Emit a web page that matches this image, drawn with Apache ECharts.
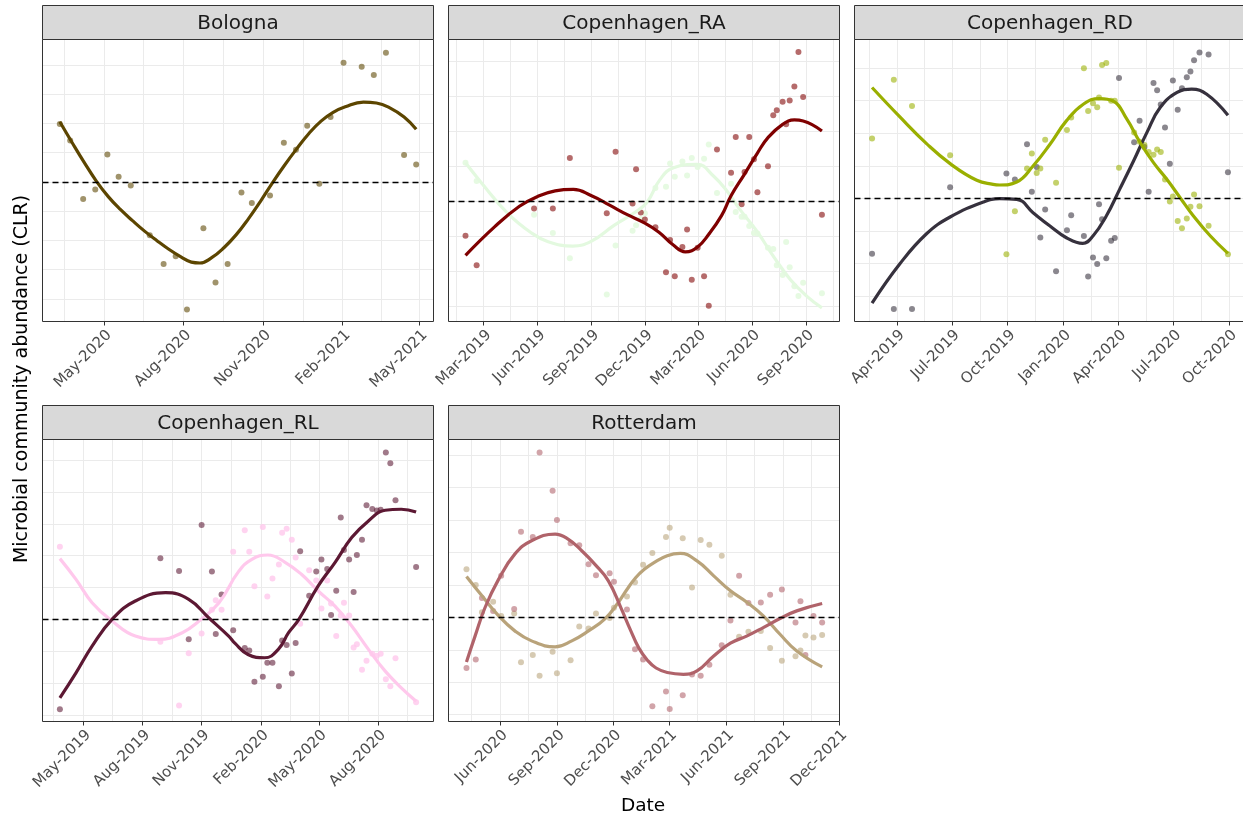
<!DOCTYPE html>
<html>
<head>
<meta charset="utf-8">
<script src="https://cdn.jsdelivr.net/npm/echarts@6/dist/echarts.min.js"></script>
<style>
  html, body { margin: 0; padding: 0; background: #ffffff; }
  #chart { width: 1243px; height: 820px; }
</style>
</head>
<body>
<div id="chart"></div>
<script>
const MONTH_ABBR = ['Jan', 'Feb', 'Mar', 'Apr', 'May', 'Jun', 'Jul', 'Aug', 'Sep', 'Oct', 'Nov', 'Dec'];

// ---------- Bologna ----------
const bolognaDates = ['2020-03-11','2020-03-23','2020-04-07','2020-04-21','2020-05-05','2020-05-18','2020-06-01','2020-06-23','2020-07-09','2020-07-23','2020-08-05','2020-08-24','2020-09-07','2020-09-21','2020-10-07','2020-10-19','2020-11-09','2020-11-25','2020-12-09','2020-12-22','2021-01-05','2021-01-18','2021-02-02','2021-02-23','2021-03-09','2021-03-23','2021-04-13','2021-04-27'];
const bolognaAbundance = [0.99, 0.71, -0.29, -0.13, 0.47, 0.09, -0.06, -0.91, -1.40, -1.27, -2.18, -0.79, -1.72, -1.40, -0.18, -0.36, -0.23, 0.67, 0.55, 0.96, -0.03, 1.11, 2.04, 1.97, 1.83, 2.21, 0.46, 0.30];
const bolognaFitDates = ['2020-03-11','2020-03-25','2020-04-08','2020-04-22','2020-05-06','2020-05-20','2020-06-03','2020-06-17','2020-07-01','2020-07-15','2020-07-29','2020-08-10','2020-08-20','2020-09-03','2020-09-17','2020-10-01','2020-10-15','2020-10-29','2020-11-12','2020-11-26','2020-12-10','2020-12-24','2021-01-07','2021-01-21','2021-02-04','2021-02-25','2021-03-12','2021-03-26','2021-04-13','2021-04-27'];
const bolognaFit = [1.03, 0.68, 0.34, 0.02, -0.25, -0.47, -0.66, -0.84, -1.00, -1.15, -1.28, -1.37, -1.385, -1.29, -1.12, -0.90, -0.63, -0.33, -0.01, 0.29, 0.57, 0.83, 1.04, 1.19, 1.285, 1.365, 1.35, 1.28, 1.11, 0.90];
const bolognaTicks = ['2020-05-01','2020-08-01','2020-11-01','2021-02-01','2021-05-01'];
const bolognaDateRange = ['2020-02-20', '2021-05-17'];
const bolognaAbundanceRange = [-2.385, 2.436];

// ---------- Copenhagen_RA ----------
const raDates = ['2019-01-29','2019-02-17','2019-05-26','2019-06-27','2019-07-26','2019-09-27','2019-10-12','2019-11-10','2019-11-16','2019-11-24','2019-12-01','2019-12-19','2020-01-06','2020-01-13','2020-01-21','2020-02-03','2020-02-11','2020-02-19','2020-02-29','2020-03-11','2020-03-19','2020-04-02','2020-04-26','2020-05-04','2020-05-14','2020-05-19','2020-05-27','2020-06-04','2020-06-10','2020-06-28','2020-07-07','2020-07-13','2020-07-23','2020-07-29','2020-08-04','2020-08-12','2020-08-19','2020-08-27','2020-09-28'];
const raRedAbundance = [-0.49, -0.91, -0.10, -0.10, 0.62, -0.17, 0.71, -0.03, 0.46, -0.16, -0.26, -0.37, -1.01, -0.55, -1.07, -0.65, -0.40, -1.12, -0.66, -1.07, -1.49, 0.74, 0.41, 0.92, -0.04, 0.42, 0.92, 0.60, 0.13, 0.50, 1.23, 1.30, 1.42, 1.10, 1.44, 1.64, 2.13, 1.49, -0.19];
const raGreenAbundance = [0.55, 0.29, -0.19, -0.45, -0.81, -1.33, -0.63, -0.42, -0.34, -0.25, -0.17, 0.19, 0.21, 0.54, 0.35, 0.57, 0.37, 0.62, 0.49, 0.61, 0.81, 0.12, 0.25, -0.15, -0.22, -0.22, -0.35, -0.45, -0.46, -0.66, -0.68, -0.91, -1.05, -0.58, -0.94, -1.21, -1.35, -1.16, -1.31];
const raRedFitDates = ['2019-01-29','2019-03-20','2019-05-01','2019-06-01','2019-07-01','2019-08-01','2019-09-01','2019-10-01','2019-11-01','2019-12-01','2019-12-25','2020-01-18','2020-02-08','2020-02-29','2020-03-19','2020-04-10','2020-04-26','2020-05-19','2020-06-10','2020-06-28','2020-07-23','2020-08-12','2020-08-27','2020-09-28'];
const raRedFit = [-0.77, -0.36, -0.07, 0.07, 0.15, 0.17, 0.08, -0.05, -0.19, -0.31, -0.44, -0.62, -0.72, -0.65, -0.47, -0.20, 0.08, 0.39, 0.69, 0.91, 1.10, 1.162, 1.148, 1.005];
const raGreenFitDates = ['2019-01-29','2019-02-25','2019-04-11','2019-05-21','2019-06-19','2019-07-31','2019-09-01','2019-10-10','2019-11-13','2019-12-04','2019-12-27','2020-01-19','2020-02-28','2020-03-27','2020-04-19','2020-05-11','2020-06-09','2020-07-07','2020-08-05','2020-09-02','2020-09-28'];
const raGreenFit = [0.55, 0.267, -0.171, -0.448, -0.576, -0.638, -0.567, -0.338, -0.162, -0.02, 0.314, 0.481, 0.529, 0.362, 0.148, -0.114, -0.424, -0.781, -1.114, -1.352, -1.52];
const raTicks = ['2019-03-01','2019-06-01','2019-09-01','2019-12-01','2020-03-01','2020-06-01','2020-09-01'];
const raDateRange = ['2018-12-31', '2020-10-28'];
const raAbundanceRange = [-1.714, 2.31];

// ---------- Copenhagen_RD ----------
const rdDates = ['2019-02-19','2019-03-27','2019-04-26','2019-06-28','2019-09-29','2019-10-13','2019-11-02','2019-11-10','2019-11-18','2019-11-24','2019-12-02','2019-12-20','2020-01-07','2020-01-14','2020-02-04','2020-02-11','2020-02-19','2020-02-26','2020-02-29','2020-03-05','2020-03-12','2020-03-20','2020-03-26','2020-04-02','2020-04-27','2020-05-06','2020-05-14','2020-05-21','2020-05-29','2020-06-04','2020-06-10','2020-06-17','2020-06-25','2020-06-30','2020-07-08','2020-07-15','2020-07-23','2020-07-29','2020-08-04','2020-08-13','2020-08-28','2020-09-29'];
const rdDarkAbundance = [-0.85, -1.70, -1.70, 0.17, 0.38, 0.29, 0.83, 0.10, 0.48, -0.60, -0.17, -1.12, -0.49, -0.26, -0.58, -1.20, -0.91, -1.01, -0.09, -0.32, -0.92, -0.65, -0.61, 1.85, 0.86, 1.19, 0.79, 0.10, 1.77, 1.66, 1.44, 1.09, 0.53, 1.81, 1.36, 1.69, 1.86, 1.95, 2.12, 2.24, 2.21, 0.40];
const rdGreenAbundance = [0.92, 1.82, 1.42, 0.66, -0.86, -0.20, 0.46, 0.69, 0.39, 0.46, 0.90, 0.24, 1.05, 1.24, 2.00, 1.34, 1.46, 1.40, 1.55, 2.05, 2.08, 1.50, 1.50, 0.47, 1.01, 0.87, 0.82, 0.71, 0.67, 0.75, 0.71, 0.29, -0.05, 0.03, -0.35, -0.46, -0.31, -0.13, 0.06, -0.12, -0.42, -0.86];
const rdDarkFitDates = ['2019-02-19','2019-04-06','2019-05-20','2019-06-28','2019-08-22','2019-09-18','2019-10-16','2019-11-12','2019-12-10','2020-01-06','2020-02-02','2020-02-19','2020-03-12','2020-04-03','2020-04-26','2020-05-18','2020-06-09','2020-07-07','2020-07-31','2020-08-25','2020-09-29'];
const rdDarkFit = [-1.61, -1.005, -0.544, -0.287, -0.056, -0.005, -0.015, -0.221, -0.426, -0.605, -0.692, -0.579, -0.272, 0.138, 0.574, 1.01, 1.395, 1.626, 1.677, 1.60, 1.277];
const rdGreenFitDates = ['2019-02-19','2019-04-06','2019-05-20','2019-06-28','2019-08-11','2019-09-07','2019-09-18','2019-10-16','2019-11-12','2019-12-10','2020-01-06','2020-02-03','2020-03-01','2020-03-23','2020-04-15','2020-05-07','2020-05-29','2020-06-20','2020-07-12','2020-08-03','2020-08-31','2020-09-29'];
const rdGreenFit = [1.703, 1.251, 0.841, 0.533, 0.277, 0.215, 0.205, 0.251, 0.497, 0.831, 1.19, 1.446, 1.533, 1.497, 1.215, 0.856, 0.549, 0.292, 0.01, -0.272, -0.579, -0.846];
const rdTicks = ['2019-04-01','2019-07-01','2019-10-01','2020-01-01','2020-04-01','2020-07-01','2020-10-01'];
const rdDateRange = ['2019-01-21', '2020-10-28'];
const rdAbundanceRange = [-1.892, 2.44];

// ---------- Copenhagen_RL ----------
const rlDates = ['2019-03-26','2019-08-29','2019-09-27','2019-10-12','2019-11-01','2019-11-17','2019-11-23','2019-12-02','2019-12-20','2020-01-07','2020-01-14','2020-01-22','2020-02-04','2020-02-11','2020-02-19','2020-02-29','2020-03-05','2020-03-12','2020-03-20','2020-03-26','2020-04-02','2020-04-16','2020-04-27','2020-05-05','2020-05-14','2020-05-20','2020-05-28','2020-06-04','2020-06-09','2020-06-17','2020-06-24','2020-06-29','2020-07-07','2020-07-14','2020-07-23','2020-07-30','2020-08-05','2020-08-13','2020-08-20','2020-08-28','2020-09-29'];
const rlDarkAbundance = [-1.41, 0.96, 0.76, -0.31, 1.48, 0.75, -0.23, 0.39, -0.17, -0.45, -0.49, -0.98, -0.90, -0.68, -0.68, -1.05, -0.33, -0.40, -0.85, -0.37, 1.07, 0.37, 0.75, 0.94, 0.79, 0.07, 0.45, 1.60, 1.09, 0.94, 0.43, 1.01, 1.25, 1.79, 1.73, 1.71, 1.72, 2.62, 2.45, 1.87, 0.82];
const rlPinkAbundance = [1.14, -0.35, -1.35, -0.53, -0.22, 0.15, 0.30, 0.15, 1.06, 1.40, 1.06, 0.52, 1.45, 0.36, 0.64, 0.86, 1.36, 1.42, 1.25, 0.97, -0.07, 0.77, 0.61, 0.17, 0.61, 0.25, -0.26, 0.06, 0.26, 0.06, -0.44, -0.39, -0.79, -0.65, -0.54, -0.57, -0.54, -0.94, -1.05, -0.61, -1.30];
const rlDarkFitDates = ['2019-03-26','2019-04-20','2019-05-15','2019-06-15','2019-07-21','2019-09-06','2019-10-12','2019-11-12','2019-12-13','2019-12-23','2020-01-12','2020-02-07','2020-02-28','2020-03-15','2020-03-31','2020-04-30','2020-05-26','2020-06-21','2020-07-17','2020-08-12','2020-09-06','2020-09-29'];
const rlDarkFit = [-1.23, -0.838, -0.419, 0.0, 0.288, 0.419, 0.314, 0.026, -0.262, -0.377, -0.55, -0.602, -0.471, -0.209, 0.0, 0.524, 0.89, 1.283, 1.545, 1.712, 1.728, 1.686];
const rlPinkFitDates = ['2019-03-26','2019-04-20','2019-05-15','2019-06-15','2019-07-21','2019-08-27','2019-10-02','2019-10-28','2019-11-28','2019-12-28','2020-01-18','2020-02-12','2020-03-09','2020-04-04','2020-04-30','2020-05-26','2020-06-21','2020-07-17','2020-08-12','2020-09-06','2020-09-29'];
const rlPinkFit = [0.953, 0.628, 0.262, -0.026, -0.262, -0.314, -0.209, -0.026, 0.262, 0.745, 0.942, 1.01, 0.90, 0.707, 0.445, 0.209, -0.105, -0.471, -0.812, -1.073, -1.283];
const rlTicks = ['2019-05-01','2019-08-01','2019-11-01','2020-02-01','2020-05-01','2020-08-01'];
const rlDateRange = ['2019-02-27', '2020-10-26'];
const rlAbundanceRange = [-1.602, 2.822];

// ---------- Rotterdam ----------
const rotDates = ['2020-04-08','2020-04-23','2020-05-03','2020-05-21','2020-06-03','2020-06-24','2020-07-05','2020-07-24','2020-08-04','2020-08-25','2020-09-01','2020-09-23','2020-10-07','2020-10-22','2020-11-03','2020-11-25','2020-12-02','2020-12-23','2021-01-05','2021-01-18','2021-02-02','2021-02-24','2021-03-02','2021-03-23','2021-04-07','2021-04-21','2021-05-05','2021-05-25','2021-06-08','2021-06-22','2021-07-07','2021-07-27','2021-08-11','2021-08-30','2021-09-21','2021-09-29','2021-10-07','2021-10-20','2021-11-03'];
const rotRedAbundance = [-0.78, -0.65, 0.30, 0.10, 0.64, 0.13, 1.32, 1.24, 2.54, 1.95, 1.50, 1.14, 1.11, 0.82, 0.65, 0.68, 0.55, 0.12, -0.49, -0.65, -1.37, -1.14, -1.41, -1.20, -0.88, -0.90, -0.73, -0.43, -0.05, 0.64, 0.22, 0.23, 0.35, 0.43, -0.08, 0.25, -0.58, 0.02, -0.08];
const rotTanAbundance = [0.74, 0.50, 0.08, 0.24, 0.02, 0.06, -0.69, -0.58, -0.90, -0.53, -0.86, -0.66, -0.14, -0.17, 0.06, -0.01, 0.15, 0.32, 0.54, 0.81, 0.99, 1.24, 1.38, 1.22, 0.46, 1.19, 1.12, 0.95, 0.35, -0.30, -0.22, -0.21, -0.47, -0.67, -0.60, -0.51, -0.28, -0.31, -0.27];
const rotRedFitDates = ['2020-04-08','2020-04-22','2020-05-08','2020-05-30','2020-06-25','2020-07-22','2020-08-29','2020-09-19','2020-10-11','2020-11-01','2020-11-23','2020-12-14','2020-12-28','2021-01-11','2021-01-25','2021-02-08','2021-02-26','2021-03-24','2021-04-15','2021-05-12','2021-06-08','2021-07-05','2021-07-31','2021-08-27','2021-09-23','2021-11-03'];
const rotRedFit = [-0.686, -0.285, 0.152, 0.589, 0.974, 1.18, 1.283, 1.206, 1.026, 0.82, 0.563, 0.13, -0.18, -0.47, -0.66, -0.78, -0.85, -0.877, -0.825, -0.594, -0.398, -0.285, -0.157, -0.018, 0.10, 0.213];
const rotTanFitDates = ['2020-04-08','2020-05-03','2020-05-30','2020-06-25','2020-07-22','2020-08-29','2020-09-25','2020-10-22','2020-11-17','2020-12-09','2020-12-23','2021-01-06','2021-01-20','2021-02-04','2021-02-26','2021-03-19','2021-04-15','2021-05-12','2021-06-08','2021-07-05','2021-07-31','2021-08-27','2021-09-23','2021-11-03'];
const rotTanFit = [0.63, 0.332, 0.023, -0.208, -0.362, -0.455, -0.362, -0.208, -0.028, 0.23, 0.43, 0.61, 0.74, 0.84, 0.95, 0.985, 0.871, 0.64, 0.409, 0.229, 0.023, -0.26, -0.517, -0.763];
const rotTicks = ['2020-06-01','2020-09-01','2020-12-01','2021-03-01','2021-06-01','2021-09-01','2021-12-01'];
const rotDateRange = ['2020-03-10', '2021-12-01'];
const rotAbundanceRange = [-1.604, 2.74];

// ---------- layout ----------
const COL_LEFT = [42.5, 448.5, 854.5];
const STRIP_TOP = [5.5, 405.5];
const STRIP_H = 34;
const PANEL_W = 391;
const PANEL_H = 282;
const FONT = '"DejaVu Sans", "Noto Sans", sans-serif';

const panels = [
  { title: 'Bologna', col: 0, row: 0, ticks: bolognaTicks, xRange: bolognaDateRange, yRange: bolognaAbundanceRange,
    groups: [
      { dates: bolognaDates, values: bolognaAbundance, fitDates: bolognaFitDates, fit: bolognaFit, color: '#5c4500' }
    ] },
  { title: 'Copenhagen_RA', col: 1, row: 0, ticks: raTicks, xRange: raDateRange, yRange: raAbundanceRange,
    groups: [
      { dates: raDates, values: raGreenAbundance, fitDates: raGreenFitDates, fit: raGreenFit, color: '#e3f9df', pointOpacity: 0.9 },
      { dates: raDates, values: raRedAbundance, fitDates: raRedFitDates, fit: raRedFit, color: '#7f0000' }
    ] },
  { title: 'Copenhagen_RD', col: 2, row: 0, ticks: rdTicks, xRange: rdDateRange, yRange: rdAbundanceRange,
    groups: [
      { dates: rdDates, values: rdDarkAbundance, fitDates: rdDarkFitDates, fit: rdDarkFit, color: '#36313d' },
      { dates: rdDates, values: rdGreenAbundance, fitDates: rdGreenFitDates, fit: rdGreenFit, color: '#9aaf00' }
    ] },
  { title: 'Copenhagen_RL', col: 0, row: 1, ticks: rlTicks, xRange: rlDateRange, yRange: rlAbundanceRange,
    groups: [
      { dates: rlDates, values: rlPinkAbundance, fitDates: rlPinkFitDates, fit: rlPinkFit, color: '#ffc8ec', pointOpacity: 0.8 },
      { dates: rlDates, values: rlDarkAbundance, fitDates: rlDarkFitDates, fit: rlDarkFit, color: '#5c1833' }
    ] },
  { title: 'Rotterdam', col: 1, row: 1, ticks: rotTicks, xRange: rotDateRange, yRange: rotAbundanceRange,
    groups: [
      { dates: rotDates, values: rotTanAbundance, fitDates: rotTanFitDates, fit: rotTanFit, color: '#b9a37a' },
      { dates: rotDates, values: rotRedAbundance, fitDates: rotRedFitDates, fit: rotRedFit, color: '#b0636a' }
    ] }
];

// 'YYYY-MM-DD' -> local timestamp
function dayStamp(s) {
  const [y, m, d] = s.split('-').map(Number);
  return new Date(y, m - 1, d).getTime();
}

function monthLabel(value) {
  const dt = new Date(value);
  return MONTH_ABBR[dt.getMonth()] + '-' + dt.getFullYear();
}

const grids = [], xAxes = [], yAxes = [], series = [], graphics = [];

panels.forEach((p, i) => {
  const left = COL_LEFT[p.col];
  const stripTop = STRIP_TOP[p.row];
  const top = stripTop + STRIP_H;
  const xMin = dayStamp(p.xRange[0]);
  const xMax = dayStamp(p.xRange[1]);
  const majors = p.ticks.map(dayStamp);

  // minor grid positions halfway between major breaks
  const minors = [];
  const ext = [2 * majors[0] - majors[1]].concat(majors, [2 * majors[majors.length - 1] - majors[majors.length - 2]]);
  for (let k = 0; k < ext.length - 1; k++) {
    const mid = (ext[k] + ext[k + 1]) / 2;
    if (mid > xMin && mid < xMax) minors.push(mid);
  }
  const xGridValues = majors.filter(v => v > xMin && v < xMax).concat(minors).sort((a, b) => a - b);

  const yGridValues = [];
  for (let v = Math.ceil(p.yRange[0] * 2) / 2; v < p.yRange[1]; v += 0.5) {
    if (v > p.yRange[0]) yGridValues.push(Math.round(v * 2) / 2);
  }

  grids.push({
    left: left, top: top, width: PANEL_W, height: PANEL_H,
    show: false, containLabel: false, outerBoundsMode: 'none'
  });

  // grid lines (major + minor)
  xAxes.push({
    type: 'value', gridIndex: i, position: 'bottom', min: xMin, max: xMax, scale: true,
    axisLine: { show: false },
    axisTick: { show: false, customValues: xGridValues },
    axisLabel: { show: false },
    splitLine: { show: true, lineStyle: { color: '#ebebeb', width: 1 } },
    axisPointer: { show: false }
  });
  // ticks and month labels
  xAxes.push({
    type: 'value', gridIndex: i, position: 'bottom', min: xMin, max: xMax, scale: true,
    axisLine: { show: false },
    axisTick: { show: true, customValues: majors, length: 4, lineStyle: { color: '#333333', width: 1 } },
    axisLabel: {
      show: true, customValues: majors, formatter: monthLabel,
      rotate: 45, align: 'right', verticalAlign: 'top', margin: 6,
      fontSize: 15, color: '#4d4d4d', fontFamily: FONT
    },
    splitLine: { show: false },
    axisPointer: { show: false }
  });
  yAxes.push({
    type: 'value', gridIndex: i, min: p.yRange[0], max: p.yRange[1],
    axisLine: { show: false },
    axisTick: { show: false, customValues: yGridValues },
    axisLabel: { show: false },
    splitLine: { show: true, lineStyle: { color: '#ebebeb', width: 1 } }
  });

  p.groups.forEach(g => {
    series.push({
      type: 'scatter', xAxisIndex: 2 * i, yAxisIndex: i, silent: true, z: 2,
      symbol: 'circle', symbolSize: 6,
      itemStyle: { color: g.color, opacity: g.pointOpacity || 0.58 },
      data: g.dates.map((d, j) => [dayStamp(d), g.values[j]])
    });
  });
  p.groups.forEach((g, k) => {
    const s = {
      type: 'line', xAxisIndex: 2 * i, yAxisIndex: i, silent: true, z: 3,
      smooth: 0.45, showSymbol: false, symbol: 'none',
      lineStyle: { color: g.color, width: 3.2 },
      data: g.fitDates.map((d, j) => [dayStamp(d), g.fit[j]])
    };
    if (k === 0) {
      s.markLine = {
        silent: true, symbol: 'none', label: { show: false }, animation: false,
        lineStyle: { color: '#000000', type: [6, 4], width: 1.4 },
        data: [{ yAxis: 0 }]
      };
    }
    series.push(s);
  });

  // panel border and facet strip
  graphics.push({
    type: 'rect', z: 100, silent: true,
    shape: { x: left, y: top, width: PANEL_W, height: PANEL_H },
    style: { fill: 'none', stroke: '#333333', lineWidth: 1 }
  });
  graphics.push({
    type: 'rect', z: 100, silent: true,
    shape: { x: left, y: stripTop, width: PANEL_W, height: STRIP_H },
    style: { fill: '#d9d9d9', stroke: '#333333', lineWidth: 1 }
  });
  graphics.push({
    type: 'text', z: 101, silent: true,
    x: left + PANEL_W / 2, y: stripTop + STRIP_H / 2 + 1,
    style: { text: p.title, fill: '#1a1a1a', font: '20px ' + FONT, textAlign: 'center', textVerticalAlign: 'middle' }
  });
});

// axis titles
graphics.push({
  type: 'text', silent: true, z: 101,
  x: 643, y: 806,
  style: { text: 'Date', fill: '#000000', font: '18.5px ' + FONT, textAlign: 'center', textVerticalAlign: 'middle' }
});
graphics.push({
  type: 'text', silent: true, z: 101,
  x: 22, y: 379, rotation: Math.PI / 2,
  style: { text: 'Microbial community abundance (CLR)', fill: '#000000', font: '19px ' + FONT, textAlign: 'center', textVerticalAlign: 'middle' }
});

const chart = echarts.init(document.getElementById('chart'), null, { renderer: 'canvas' });
chart.setOption({
  backgroundColor: '#ffffff',
  animation: false,
  grid: grids,
  xAxis: xAxes,
  yAxis: yAxes,
  series: series,
  graphic: graphics
});
</script>
</body>
</html>
